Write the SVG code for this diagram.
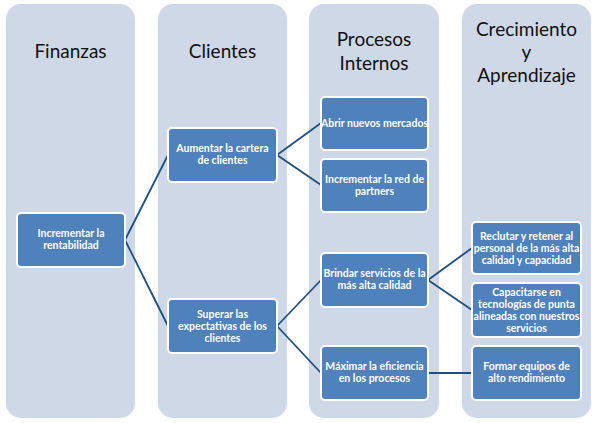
<svg xmlns="http://www.w3.org/2000/svg" width="600" height="423" viewBox="0 0 600 423">
<style>
.col{fill:#cfd8e7;}
.title{font-family:Lato,"Liberation Sans",sans-serif;font-size:19px;fill:#111;text-anchor:middle;}
.box{fill:#4f81bd;stroke:#ffffff;stroke-width:2;}
.lbl{font-family:Lato,"Liberation Sans",sans-serif;font-size:10.5px;font-weight:bold;fill:#ffffff;text-anchor:middle;}
.conn line{stroke:#1f4e82;stroke-width:1.8;}
</style>
<rect width="600" height="423" fill="#ffffff"/>
<g id="columns">
<rect class="col" x="6" y="4" width="129" height="414" rx="15"/>
<rect class="col" x="158" y="4" width="129" height="414" rx="15"/>
<rect class="col" x="309" y="4" width="130" height="414" rx="15"/>
<rect class="col" x="462" y="4" width="129" height="414" rx="15"/>
<text class="title" x="70.5" y="58">Finanzas</text>
<text class="title" x="222.5" y="58">Clientes</text>
<text class="title" x="374" y="46">Procesos</text>
<text class="title" x="374" y="70">Internos</text>
<text class="title" x="526.5" y="36">Crecimiento</text>
<text class="title" x="526.5" y="59">y</text>
<text class="title" x="526.5" y="82">Aprendizaje</text>
</g>
<g class="conn" id="connectors">
<line x1="125" y1="240" x2="168" y2="155"/>
<line x1="125" y1="240" x2="168" y2="326"/>
<line x1="277" y1="155" x2="321" y2="123"/>
<line x1="277" y1="155" x2="321" y2="185"/>
<line x1="277" y1="326" x2="321" y2="280"/>
<line x1="277" y1="326" x2="321" y2="373"/>
<line x1="428" y1="280" x2="472" y2="248"/>
<line x1="428" y1="280" x2="472" y2="310"/>
<line x1="428" y1="373" x2="472" y2="373"/>
</g>
<g id="n-rentabilidad">
<rect class="box" x="17" y="213" width="108" height="54" rx="4"/>
<text class="lbl" x="71" y="237">Incrementar la</text>
<text class="lbl" x="71" y="249">rentabilidad</text>
</g>
<g id="n-cartera">
<rect class="box" x="168" y="128" width="109" height="54" rx="4"/>
<text class="lbl" x="222.5" y="152">Aumentar la cartera</text>
<text class="lbl" x="222.5" y="164">de clientes</text>
</g>
<g id="n-expectativas">
<rect class="box" x="168" y="299" width="109" height="54" rx="4"/>
<text class="lbl" x="222.5" y="318">Superar las</text>
<text class="lbl" x="222.5" y="330">expectativas de los</text>
<text class="lbl" x="222.5" y="342">clientes</text>
</g>
<g id="n-mercados">
<rect class="box" x="321" y="97" width="107" height="53" rx="4"/>
<text class="lbl" x="374.5" y="127">Abrir nuevos mercados</text>
</g>
<g id="n-partners">
<rect class="box" x="321" y="159" width="107" height="53" rx="4"/>
<text class="lbl" x="374.5" y="183">Incrementar la red de</text>
<text class="lbl" x="374.5" y="195">partners</text>
</g>
<g id="n-servicios">
<rect class="box" x="321" y="253" width="107" height="54" rx="4"/>
<text class="lbl" x="374.5" y="277">Brindar servicios de la</text>
<text class="lbl" x="374.5" y="289">más alta calidad</text>
</g>
<g id="n-eficiencia">
<rect class="box" x="321" y="346" width="107" height="54" rx="4"/>
<text class="lbl" x="374.5" y="370">Máximar la eficiencia</text>
<text class="lbl" x="374.5" y="382">en los procesos</text>
</g>
<g id="n-reclutar">
<rect class="box" x="472" y="222" width="109" height="52" rx="4"/>
<text class="lbl" x="526.5" y="240">Reclutar y retener al</text>
<text class="lbl" x="526.5" y="252">personal de la más alta</text>
<text class="lbl" x="526.5" y="264">calidad y capacidad</text>
</g>
<g id="n-capacitarse">
<rect class="box" x="472" y="283" width="109" height="54" rx="4"/>
<text class="lbl" x="526.5" y="296">Capacitarse en</text>
<text class="lbl" x="526.5" y="308">tecnologías de punta</text>
<text class="lbl" x="526.5" y="320">alineadas con nuestros</text>
<text class="lbl" x="526.5" y="332">servicios</text>
</g>
<g id="n-equipos">
<rect class="box" x="472" y="346" width="109" height="54" rx="4"/>
<text class="lbl" x="526.5" y="370">Formar equipos de</text>
<text class="lbl" x="526.5" y="382">alto rendimiento</text>
</g>
</svg>
